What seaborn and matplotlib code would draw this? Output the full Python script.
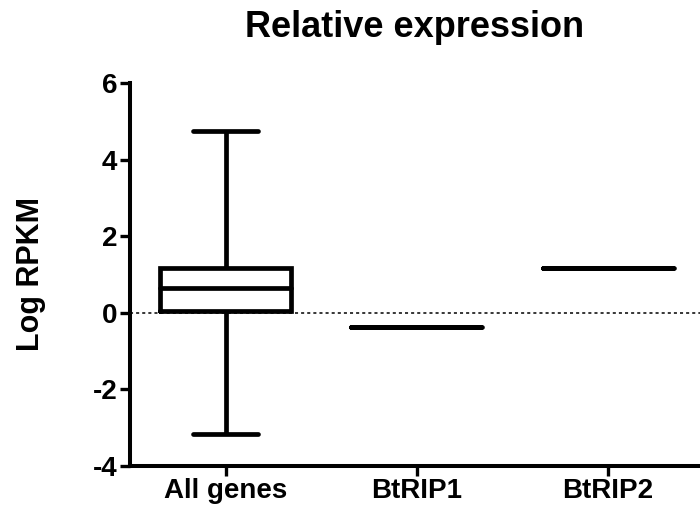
import numpy as np
import pandas as pd
import seaborn as sns
import matplotlib
matplotlib.use("Agg")
import matplotlib.pyplot as plt

sns.set_theme(style="ticks")
plt.rcParams['font.family'] = ['Liberation Sans', 'DejaVu Sans']
plt.rcParams.update({"text.color": "black", "axes.labelcolor": "black",
                     "xtick.color": "black", "ytick.color": "black",
                     "axes.edgecolor": "black"})

categories = ["All genes", "BtRIP1", "BtRIP2"]
# five-number summary for All genes (min, Q1, median, Q3, max)
all_genes = [-3.16, 0.05, 0.65, 1.17, 4.75]
btrip1 = [-0.36]
btrip2 = [1.17]
yticks = [-4, -2, 0, 2, 4, 6]

df = pd.DataFrame({
    "group": ["All genes"] * len(all_genes) + ["BtRIP1"] * len(btrip1) + ["BtRIP2"] * len(btrip2),
    "value": all_genes + btrip1 + btrip2,
})

fig = plt.figure(figsize=(7.0, 5.09), dpi=100)
ax = fig.add_axes([0.1857, 0.0845, 0.8143, 0.7525])

ax.axhline(0, color="black", lw=1.1, ls=(0, (2, 2)), zorder=0)

lw = 3.4
sns.boxplot(data=df, x="group", y="value", order=categories, whis=(0, 100),
            width=0.685, fill=False, color="black", linewidth=lw, ax=ax,
            boxprops=dict(solid_joinstyle="miter"),
            medianprops=dict(solid_capstyle="round", color="black"),
            capprops=dict(solid_capstyle="round"),
            whiskerprops=dict(solid_capstyle="butt"))

ax.set_ylim(-4, 6)
ax.set_xlim(-0.5, 2.48)
ax.set_yticks(yticks)
ax.set_yticklabels([str(t) for t in yticks])
ax.set_xlabel("")
ax.set_ylabel("Log RPKM", fontsize=22, fontweight="bold", labelpad=34, color="black")
ax.set_title("Relative expression", fontsize=26, fontweight="bold", pad=33, color="black")

for lab in ax.get_xticklabels() + ax.get_yticklabels():
    lab.set_fontweight("bold")
    lab.set_fontsize(20)
    lab.set_color("black")
ax.tick_params(axis="both", width=2.4, length=7, color="black", pad=2)
for s in ["left", "bottom"]:
    ax.spines[s].set_linewidth(2.9)
    ax.spines[s].set_color("black")
sns.despine(ax=ax)

fig.savefig("out.png", dpi=100)
